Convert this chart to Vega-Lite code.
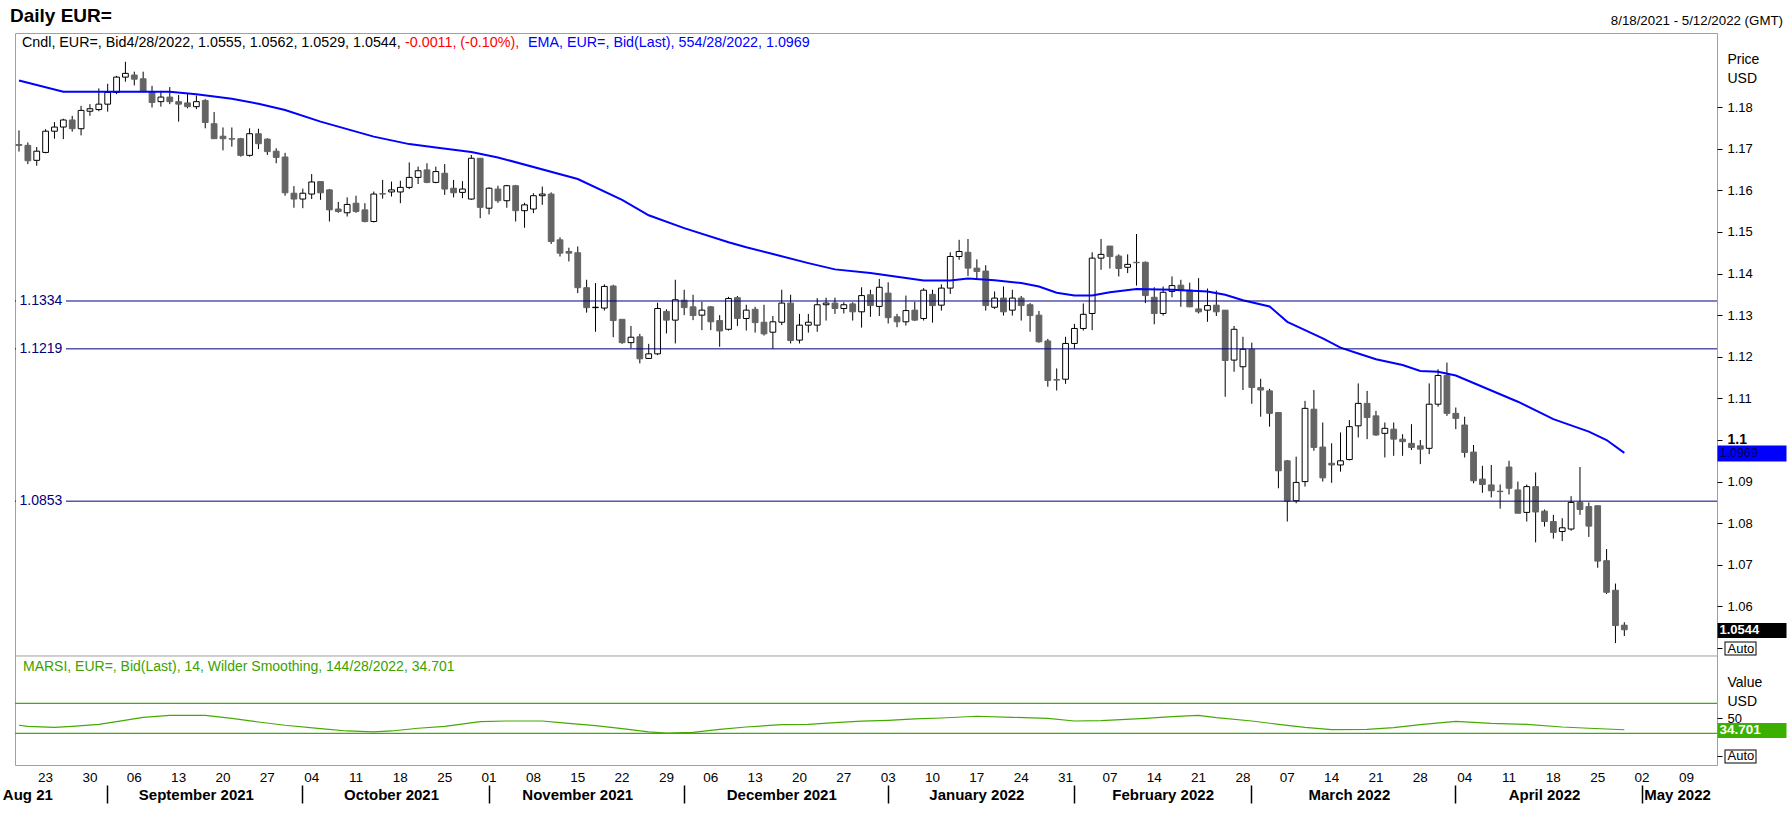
{
  "$schema": "https://vega.github.io/schema/vega-lite/v6.json",
  "description": "Daily EUR= candlesticks with 55-day EMA, support lines and MARSI panel, 8/18/2021 - 4/28/2022.",
  "width": 1702,
  "height": 732,
  "autosize": {"type": "none"},
  "padding": {"left": 15, "top": 33, "right": 71, "bottom": 62},
  "background": "white",
  "config": {
    "view": {"stroke": "#a0a0a0", "strokeWidth": 1},
    "font": "Liberation Sans",
    "text": {"font": "Liberation Sans"}
  },
  "datasets": {
    "candles": [
      {"d": "2021-08-18", "o": 1.1710, "h": 1.1744, "l": 1.1693, "c": 1.1708},
      {"d": "2021-08-19", "o": 1.1708, "h": 1.1715, "l": 1.1663, "c": 1.1671},
      {"d": "2021-08-20", "o": 1.1672, "h": 1.1704, "l": 1.1659, "c": 1.1694},
      {"d": "2021-08-23", "o": 1.1691, "h": 1.1747, "l": 1.1689, "c": 1.1742},
      {"d": "2021-08-24", "o": 1.1742, "h": 1.1764, "l": 1.1724, "c": 1.1752},
      {"d": "2021-08-25", "o": 1.1752, "h": 1.1772, "l": 1.1723, "c": 1.1769},
      {"d": "2021-08-26", "o": 1.1769, "h": 1.1779, "l": 1.1741, "c": 1.1748},
      {"d": "2021-08-27", "o": 1.1748, "h": 1.1803, "l": 1.1732, "c": 1.1792},
      {"d": "2021-08-30", "o": 1.1790, "h": 1.1807, "l": 1.1779, "c": 1.1796},
      {"d": "2021-08-31", "o": 1.1794, "h": 1.1845, "l": 1.1790, "c": 1.1807},
      {"d": "2021-09-01", "o": 1.1807, "h": 1.1856, "l": 1.1789, "c": 1.1835},
      {"d": "2021-09-02", "o": 1.1835, "h": 1.1875, "l": 1.1831, "c": 1.1872},
      {"d": "2021-09-03", "o": 1.1872, "h": 1.1909, "l": 1.1861, "c": 1.1881},
      {"d": "2021-09-06", "o": 1.1877, "h": 1.1885, "l": 1.1852, "c": 1.1867},
      {"d": "2021-09-07", "o": 1.1868, "h": 1.1885, "l": 1.1837, "c": 1.1837},
      {"d": "2021-09-08", "o": 1.1837, "h": 1.1851, "l": 1.1799, "c": 1.1811},
      {"d": "2021-09-09", "o": 1.1813, "h": 1.1839, "l": 1.1801, "c": 1.1824},
      {"d": "2021-09-10", "o": 1.1824, "h": 1.1848, "l": 1.1807, "c": 1.1813},
      {"d": "2021-09-13", "o": 1.1813, "h": 1.1829, "l": 1.1765, "c": 1.1807},
      {"d": "2021-09-14", "o": 1.1810, "h": 1.1833, "l": 1.1797, "c": 1.1801},
      {"d": "2021-09-15", "o": 1.1801, "h": 1.1828, "l": 1.1795, "c": 1.1813},
      {"d": "2021-09-16", "o": 1.1816, "h": 1.1819, "l": 1.1749, "c": 1.1763},
      {"d": "2021-09-17", "o": 1.1760, "h": 1.1788, "l": 1.1724, "c": 1.1724},
      {"d": "2021-09-20", "o": 1.1730, "h": 1.1751, "l": 1.1696, "c": 1.1724},
      {"d": "2021-09-21", "o": 1.1724, "h": 1.1751, "l": 1.1705, "c": 1.1723},
      {"d": "2021-09-22", "o": 1.1724, "h": 1.1726, "l": 1.1681, "c": 1.1684},
      {"d": "2021-09-23", "o": 1.1684, "h": 1.1749, "l": 1.1681, "c": 1.1736},
      {"d": "2021-09-24", "o": 1.1736, "h": 1.1748, "l": 1.1699, "c": 1.1712},
      {"d": "2021-09-27", "o": 1.1723, "h": 1.1725, "l": 1.1685, "c": 1.1693},
      {"d": "2021-09-28", "o": 1.1694, "h": 1.1701, "l": 1.1665, "c": 1.1679},
      {"d": "2021-09-29", "o": 1.1680, "h": 1.1690, "l": 1.1587, "c": 1.1594},
      {"d": "2021-09-30", "o": 1.1593, "h": 1.1610, "l": 1.1558, "c": 1.1579},
      {"d": "2021-10-01", "o": 1.1579, "h": 1.1604, "l": 1.1557, "c": 1.1593},
      {"d": "2021-10-04", "o": 1.1591, "h": 1.1639, "l": 1.1579, "c": 1.1620},
      {"d": "2021-10-05", "o": 1.1621, "h": 1.1622, "l": 1.1577, "c": 1.1594},
      {"d": "2021-10-06", "o": 1.1601, "h": 1.1603, "l": 1.1525, "c": 1.1553},
      {"d": "2021-10-07", "o": 1.1555, "h": 1.1572, "l": 1.1546, "c": 1.1549},
      {"d": "2021-10-08", "o": 1.1546, "h": 1.1583, "l": 1.1537, "c": 1.1566},
      {"d": "2021-10-11", "o": 1.1569, "h": 1.1587, "l": 1.1546, "c": 1.1549},
      {"d": "2021-10-12", "o": 1.1553, "h": 1.1569, "l": 1.1523, "c": 1.1525},
      {"d": "2021-10-13", "o": 1.1525, "h": 1.1597, "l": 1.1523, "c": 1.1591},
      {"d": "2021-10-14", "o": 1.1592, "h": 1.1625, "l": 1.1580, "c": 1.1591},
      {"d": "2021-10-15", "o": 1.1596, "h": 1.1621, "l": 1.1585, "c": 1.1601},
      {"d": "2021-10-18", "o": 1.1596, "h": 1.1623, "l": 1.1569, "c": 1.1607},
      {"d": "2021-10-19", "o": 1.1607, "h": 1.1667, "l": 1.1603, "c": 1.1631},
      {"d": "2021-10-20", "o": 1.1631, "h": 1.1657, "l": 1.1615, "c": 1.1647},
      {"d": "2021-10-21", "o": 1.1649, "h": 1.1665, "l": 1.1617, "c": 1.1619},
      {"d": "2021-10-22", "o": 1.1619, "h": 1.1657, "l": 1.1617, "c": 1.1645},
      {"d": "2021-10-25", "o": 1.1641, "h": 1.1663, "l": 1.1589, "c": 1.1603},
      {"d": "2021-10-26", "o": 1.1605, "h": 1.1625, "l": 1.1583, "c": 1.1594},
      {"d": "2021-10-27", "o": 1.1595, "h": 1.1622, "l": 1.1581, "c": 1.1603},
      {"d": "2021-10-28", "o": 1.1579, "h": 1.1685, "l": 1.1577, "c": 1.1677},
      {"d": "2021-10-29", "o": 1.1677, "h": 1.1677, "l": 1.1533, "c": 1.1559},
      {"d": "2021-11-01", "o": 1.1557, "h": 1.1607, "l": 1.1542, "c": 1.1605},
      {"d": "2021-11-02", "o": 1.1603, "h": 1.1611, "l": 1.1570, "c": 1.1575},
      {"d": "2021-11-03", "o": 1.1575, "h": 1.1613, "l": 1.1558, "c": 1.1611},
      {"d": "2021-11-04", "o": 1.1611, "h": 1.1613, "l": 1.1525, "c": 1.1551},
      {"d": "2021-11-05", "o": 1.1551, "h": 1.1570, "l": 1.1510, "c": 1.1565},
      {"d": "2021-11-08", "o": 1.1555, "h": 1.1593, "l": 1.1545, "c": 1.1587},
      {"d": "2021-11-09", "o": 1.1587, "h": 1.1609, "l": 1.1565, "c": 1.1591},
      {"d": "2021-11-10", "o": 1.1591, "h": 1.1595, "l": 1.1471, "c": 1.1477},
      {"d": "2021-11-11", "o": 1.1481, "h": 1.1487, "l": 1.1441, "c": 1.1449},
      {"d": "2021-11-12", "o": 1.1453, "h": 1.1462, "l": 1.1429, "c": 1.1449},
      {"d": "2021-11-15", "o": 1.1450, "h": 1.1465, "l": 1.1353, "c": 1.1366},
      {"d": "2021-11-16", "o": 1.1366, "h": 1.1385, "l": 1.1306, "c": 1.1318},
      {"d": "2021-11-17", "o": 1.1318, "h": 1.1377, "l": 1.1260, "c": 1.1319},
      {"d": "2021-11-18", "o": 1.1317, "h": 1.1374, "l": 1.1311, "c": 1.1369},
      {"d": "2021-11-19", "o": 1.1370, "h": 1.1373, "l": 1.1247, "c": 1.1287},
      {"d": "2021-11-22", "o": 1.1290, "h": 1.1290, "l": 1.1231, "c": 1.1234},
      {"d": "2021-11-23", "o": 1.1234, "h": 1.1274, "l": 1.1220, "c": 1.1247},
      {"d": "2021-11-24", "o": 1.1248, "h": 1.1255, "l": 1.1184, "c": 1.1195},
      {"d": "2021-11-25", "o": 1.1196, "h": 1.1231, "l": 1.1195, "c": 1.1207},
      {"d": "2021-11-26", "o": 1.1207, "h": 1.1330, "l": 1.1204, "c": 1.1316},
      {"d": "2021-11-29", "o": 1.1309, "h": 1.1314, "l": 1.1256, "c": 1.1288},
      {"d": "2021-11-30", "o": 1.1288, "h": 1.1385, "l": 1.1232, "c": 1.1337},
      {"d": "2021-12-01", "o": 1.1336, "h": 1.1361, "l": 1.1300, "c": 1.1318},
      {"d": "2021-12-02", "o": 1.1320, "h": 1.1349, "l": 1.1288, "c": 1.1299},
      {"d": "2021-12-03", "o": 1.1300, "h": 1.1332, "l": 1.1264, "c": 1.1312},
      {"d": "2021-12-06", "o": 1.1320, "h": 1.1322, "l": 1.1264, "c": 1.1284},
      {"d": "2021-12-07", "o": 1.1287, "h": 1.1300, "l": 1.1224, "c": 1.1262},
      {"d": "2021-12-08", "o": 1.1266, "h": 1.1344, "l": 1.1263, "c": 1.1340},
      {"d": "2021-12-09", "o": 1.1342, "h": 1.1346, "l": 1.1274, "c": 1.1292},
      {"d": "2021-12-10", "o": 1.1292, "h": 1.1325, "l": 1.1263, "c": 1.1312},
      {"d": "2021-12-13", "o": 1.1314, "h": 1.1320, "l": 1.1258, "c": 1.1282},
      {"d": "2021-12-14", "o": 1.1283, "h": 1.1325, "l": 1.1251, "c": 1.1255},
      {"d": "2021-12-15", "o": 1.1259, "h": 1.1298, "l": 1.1219, "c": 1.1284},
      {"d": "2021-12-16", "o": 1.1283, "h": 1.1361, "l": 1.1276, "c": 1.1329},
      {"d": "2021-12-17", "o": 1.1329, "h": 1.1349, "l": 1.1232, "c": 1.1239},
      {"d": "2021-12-20", "o": 1.1240, "h": 1.1303, "l": 1.1232, "c": 1.1276},
      {"d": "2021-12-21", "o": 1.1276, "h": 1.1303, "l": 1.1258, "c": 1.1283},
      {"d": "2021-12-22", "o": 1.1276, "h": 1.1341, "l": 1.1260, "c": 1.1325},
      {"d": "2021-12-23", "o": 1.1325, "h": 1.1342, "l": 1.1287, "c": 1.1329},
      {"d": "2021-12-24", "o": 1.1329, "h": 1.1342, "l": 1.1303, "c": 1.1316},
      {"d": "2021-12-27", "o": 1.1316, "h": 1.1331, "l": 1.1304, "c": 1.1325},
      {"d": "2021-12-28", "o": 1.1327, "h": 1.1331, "l": 1.1287, "c": 1.1308},
      {"d": "2021-12-29", "o": 1.1308, "h": 1.1367, "l": 1.1270, "c": 1.1347},
      {"d": "2021-12-30", "o": 1.1349, "h": 1.1361, "l": 1.1296, "c": 1.1323},
      {"d": "2021-12-31", "o": 1.1321, "h": 1.1387, "l": 1.1298, "c": 1.1367},
      {"d": "2022-01-03", "o": 1.1353, "h": 1.1379, "l": 1.1280, "c": 1.1294},
      {"d": "2022-01-04", "o": 1.1296, "h": 1.1303, "l": 1.1271, "c": 1.1284},
      {"d": "2022-01-05", "o": 1.1284, "h": 1.1347, "l": 1.1275, "c": 1.1311},
      {"d": "2022-01-06", "o": 1.1312, "h": 1.1332, "l": 1.1286, "c": 1.1288},
      {"d": "2022-01-07", "o": 1.1292, "h": 1.1365, "l": 1.1287, "c": 1.1360},
      {"d": "2022-01-10", "o": 1.1350, "h": 1.1361, "l": 1.1282, "c": 1.1323},
      {"d": "2022-01-11", "o": 1.1324, "h": 1.1374, "l": 1.1311, "c": 1.1365},
      {"d": "2022-01-12", "o": 1.1365, "h": 1.1451, "l": 1.1351, "c": 1.1441},
      {"d": "2022-01-13", "o": 1.1441, "h": 1.1481, "l": 1.1433, "c": 1.1453},
      {"d": "2022-01-14", "o": 1.1451, "h": 1.1483, "l": 1.1394, "c": 1.1413},
      {"d": "2022-01-17", "o": 1.1413, "h": 1.1434, "l": 1.1387, "c": 1.1405},
      {"d": "2022-01-18", "o": 1.1406, "h": 1.1420, "l": 1.1311, "c": 1.1323},
      {"d": "2022-01-19", "o": 1.1319, "h": 1.1357, "l": 1.1315, "c": 1.1341},
      {"d": "2022-01-20", "o": 1.1341, "h": 1.1369, "l": 1.1299, "c": 1.1308},
      {"d": "2022-01-21", "o": 1.1312, "h": 1.1361, "l": 1.1299, "c": 1.1341},
      {"d": "2022-01-24", "o": 1.1341, "h": 1.1346, "l": 1.1287, "c": 1.1323},
      {"d": "2022-01-25", "o": 1.1325, "h": 1.1329, "l": 1.1260, "c": 1.1299},
      {"d": "2022-01-26", "o": 1.1300, "h": 1.1310, "l": 1.1234, "c": 1.1236},
      {"d": "2022-01-27", "o": 1.1238, "h": 1.1243, "l": 1.1128, "c": 1.1143},
      {"d": "2022-01-28", "o": 1.1145, "h": 1.1172, "l": 1.1119, "c": 1.1144},
      {"d": "2022-01-31", "o": 1.1146, "h": 1.1248, "l": 1.1135, "c": 1.1232},
      {"d": "2022-02-01", "o": 1.1232, "h": 1.1279, "l": 1.1219, "c": 1.1268},
      {"d": "2022-02-02", "o": 1.1268, "h": 1.1328, "l": 1.1263, "c": 1.1302},
      {"d": "2022-02-03", "o": 1.1304, "h": 1.1451, "l": 1.1264, "c": 1.1437},
      {"d": "2022-02-04", "o": 1.1437, "h": 1.1483, "l": 1.1409, "c": 1.1446},
      {"d": "2022-02-07", "o": 1.1466, "h": 1.1466, "l": 1.1412, "c": 1.1441},
      {"d": "2022-02-08", "o": 1.1442, "h": 1.1446, "l": 1.1393, "c": 1.1412},
      {"d": "2022-02-09", "o": 1.1415, "h": 1.1446, "l": 1.1401, "c": 1.1422},
      {"d": "2022-02-10", "o": 1.1427, "h": 1.1495, "l": 1.1371, "c": 1.1426},
      {"d": "2022-02-11", "o": 1.1427, "h": 1.1429, "l": 1.1329, "c": 1.1347},
      {"d": "2022-02-14", "o": 1.1343, "h": 1.1367, "l": 1.1278, "c": 1.1304},
      {"d": "2022-02-15", "o": 1.1304, "h": 1.1369, "l": 1.1299, "c": 1.1355},
      {"d": "2022-02-16", "o": 1.1357, "h": 1.1393, "l": 1.1343, "c": 1.1371},
      {"d": "2022-02-17", "o": 1.1372, "h": 1.1385, "l": 1.1320, "c": 1.1359},
      {"d": "2022-02-18", "o": 1.1360, "h": 1.1378, "l": 1.1319, "c": 1.1320},
      {"d": "2022-02-21", "o": 1.1315, "h": 1.1389, "l": 1.1304, "c": 1.1308},
      {"d": "2022-02-22", "o": 1.1312, "h": 1.1364, "l": 1.1284, "c": 1.1323},
      {"d": "2022-02-23", "o": 1.1324, "h": 1.1359, "l": 1.1298, "c": 1.1308},
      {"d": "2022-02-24", "o": 1.1312, "h": 1.1312, "l": 1.1104, "c": 1.1191},
      {"d": "2022-02-25", "o": 1.1192, "h": 1.1274, "l": 1.1164, "c": 1.1266},
      {"d": "2022-02-28", "o": 1.1176, "h": 1.1248, "l": 1.1120, "c": 1.1218},
      {"d": "2022-03-01", "o": 1.1218, "h": 1.1234, "l": 1.1087, "c": 1.1126},
      {"d": "2022-03-02", "o": 1.1126, "h": 1.1147, "l": 1.1056, "c": 1.1120},
      {"d": "2022-03-03", "o": 1.1118, "h": 1.1123, "l": 1.1032, "c": 1.1064},
      {"d": "2022-03-04", "o": 1.1066, "h": 1.1066, "l": 1.0884, "c": 1.0926},
      {"d": "2022-03-07", "o": 1.0950, "h": 1.0952, "l": 1.0804, "c": 1.0853},
      {"d": "2022-03-08", "o": 1.0854, "h": 1.0960, "l": 1.0848, "c": 1.0898},
      {"d": "2022-03-09", "o": 1.0900, "h": 1.1094, "l": 1.0888, "c": 1.1076},
      {"d": "2022-03-10", "o": 1.1074, "h": 1.1120, "l": 1.0974, "c": 1.0982},
      {"d": "2022-03-11", "o": 1.0983, "h": 1.1042, "l": 1.0900, "c": 1.0909},
      {"d": "2022-03-14", "o": 1.0944, "h": 1.0992, "l": 1.0897, "c": 1.0940},
      {"d": "2022-03-15", "o": 1.0940, "h": 1.1018, "l": 1.0924, "c": 1.0950},
      {"d": "2022-03-16", "o": 1.0953, "h": 1.1048, "l": 1.0951, "c": 1.1032},
      {"d": "2022-03-17", "o": 1.1034, "h": 1.1136, "l": 1.1006, "c": 1.1088},
      {"d": "2022-03-18", "o": 1.1088, "h": 1.1118, "l": 1.1002, "c": 1.1054},
      {"d": "2022-03-21", "o": 1.1058, "h": 1.1070, "l": 1.1010, "c": 1.1012},
      {"d": "2022-03-22", "o": 1.1016, "h": 1.1042, "l": 1.0958, "c": 1.1028},
      {"d": "2022-03-23", "o": 1.1026, "h": 1.1042, "l": 1.0962, "c": 1.1002},
      {"d": "2022-03-24", "o": 1.1002, "h": 1.1014, "l": 1.0962, "c": 1.0996},
      {"d": "2022-03-25", "o": 1.0992, "h": 1.1038, "l": 1.0976, "c": 1.0982},
      {"d": "2022-03-28", "o": 1.0986, "h": 1.1000, "l": 1.0942, "c": 1.0978},
      {"d": "2022-03-29", "o": 1.0980, "h": 1.1136, "l": 1.0966, "c": 1.1086},
      {"d": "2022-03-30", "o": 1.1086, "h": 1.1170, "l": 1.1080, "c": 1.1155},
      {"d": "2022-03-31", "o": 1.1155, "h": 1.1186, "l": 1.1058, "c": 1.1064},
      {"d": "2022-04-01", "o": 1.1064, "h": 1.1078, "l": 1.1026, "c": 1.1052},
      {"d": "2022-04-04", "o": 1.1036, "h": 1.1056, "l": 1.0958, "c": 1.0970},
      {"d": "2022-04-05", "o": 1.0971, "h": 1.0988, "l": 1.0896, "c": 1.0902},
      {"d": "2022-04-06", "o": 1.0906, "h": 1.0938, "l": 1.0873, "c": 1.0893},
      {"d": "2022-04-07", "o": 1.0892, "h": 1.0940, "l": 1.0862, "c": 1.0878},
      {"d": "2022-04-08", "o": 1.0877, "h": 1.0893, "l": 1.0835, "c": 1.0876},
      {"d": "2022-04-11", "o": 1.0935, "h": 1.0950, "l": 1.0869, "c": 1.0884},
      {"d": "2022-04-12", "o": 1.0880, "h": 1.0900, "l": 1.0824, "c": 1.0824},
      {"d": "2022-04-13", "o": 1.0826, "h": 1.0893, "l": 1.0804, "c": 1.0888},
      {"d": "2022-04-14", "o": 1.0888, "h": 1.0922, "l": 1.0754, "c": 1.0827},
      {"d": "2022-04-15", "o": 1.0829, "h": 1.0833, "l": 1.0792, "c": 1.0804},
      {"d": "2022-04-18", "o": 1.0804, "h": 1.0820, "l": 1.0763, "c": 1.0778},
      {"d": "2022-04-19", "o": 1.0780, "h": 1.0812, "l": 1.0757, "c": 1.0789},
      {"d": "2022-04-20", "o": 1.0786, "h": 1.0865, "l": 1.0782, "c": 1.0850},
      {"d": "2022-04-21", "o": 1.0850, "h": 1.0935, "l": 1.0820, "c": 1.0833},
      {"d": "2022-04-22", "o": 1.0840, "h": 1.0850, "l": 1.0767, "c": 1.0793},
      {"d": "2022-04-25", "o": 1.0842, "h": 1.0842, "l": 1.0693, "c": 1.0709},
      {"d": "2022-04-26", "o": 1.0710, "h": 1.0738, "l": 1.0630, "c": 1.0634},
      {"d": "2022-04-27", "o": 1.0639, "h": 1.0655, "l": 1.0512, "c": 1.0554},
      {"d": "2022-04-28", "o": 1.0555, "h": 1.0562, "l": 1.0529, "c": 1.0544}
    ],
    "ema": [
      {"d": "2021-08-18", "ema": 1.1864},
      {"d": "2021-08-25", "ema": 1.1837},
      {"d": "2021-09-03", "ema": 1.1837},
      {"d": "2021-09-10", "ema": 1.1837},
      {"d": "2021-09-15", "ema": 1.1831},
      {"d": "2021-09-21", "ema": 1.1820},
      {"d": "2021-09-24", "ema": 1.1808},
      {"d": "2021-09-29", "ema": 1.1793},
      {"d": "2021-10-05", "ema": 1.1765},
      {"d": "2021-10-13", "ema": 1.1729},
      {"d": "2021-10-19", "ema": 1.1711},
      {"d": "2021-10-22", "ema": 1.1703},
      {"d": "2021-10-28", "ema": 1.1692},
      {"d": "2021-11-02", "ema": 1.1679},
      {"d": "2021-11-15", "ema": 1.1627},
      {"d": "2021-11-22", "ema": 1.1577},
      {"d": "2021-11-25", "ema": 1.1540},
      {"d": "2021-12-01", "ema": 1.1509},
      {"d": "2021-12-08", "ema": 1.1475},
      {"d": "2021-12-10", "ema": 1.1463},
      {"d": "2021-12-15", "ema": 1.1447},
      {"d": "2021-12-21", "ema": 1.1425},
      {"d": "2021-12-24", "ema": 1.1410},
      {"d": "2021-12-30", "ema": 1.1401},
      {"d": "2022-01-05", "ema": 1.1389},
      {"d": "2022-01-07", "ema": 1.1383},
      {"d": "2022-01-12", "ema": 1.1383},
      {"d": "2022-01-14", "ema": 1.1388},
      {"d": "2022-01-19", "ema": 1.1384},
      {"d": "2022-01-24", "ema": 1.1377},
      {"d": "2022-01-26", "ema": 1.1369},
      {"d": "2022-01-28", "ema": 1.1354},
      {"d": "2022-02-01", "ema": 1.1347},
      {"d": "2022-02-03", "ema": 1.1347},
      {"d": "2022-02-07", "ema": 1.1355},
      {"d": "2022-02-10", "ema": 1.1363},
      {"d": "2022-02-16", "ema": 1.1361},
      {"d": "2022-02-22", "ema": 1.1357},
      {"d": "2022-02-24", "ema": 1.1349},
      {"d": "2022-02-28", "ema": 1.1336},
      {"d": "2022-03-03", "ema": 1.1321},
      {"d": "2022-03-07", "ema": 1.1284},
      {"d": "2022-03-09", "ema": 1.1264},
      {"d": "2022-03-11", "ema": 1.1244},
      {"d": "2022-03-15", "ema": 1.1222},
      {"d": "2022-03-17", "ema": 1.1208},
      {"d": "2022-03-21", "ema": 1.1194},
      {"d": "2022-03-24", "ema": 1.1180},
      {"d": "2022-03-28", "ema": 1.1166},
      {"d": "2022-03-30", "ema": 1.1164},
      {"d": "2022-04-01", "ema": 1.1155},
      {"d": "2022-04-05", "ema": 1.1137},
      {"d": "2022-04-08", "ema": 1.1110},
      {"d": "2022-04-12", "ema": 1.1092},
      {"d": "2022-04-18", "ema": 1.1050},
      {"d": "2022-04-22", "ema": 1.1020},
      {"d": "2022-04-26", "ema": 1.1000},
      {"d": "2022-04-28", "ema": 1.0969}
    ],
    "rsi": [
      {"d": "2021-08-18", "v": 40.7},
      {"d": "2021-08-19", "v": 39.3},
      {"d": "2021-08-24", "v": 38.0},
      {"d": "2021-08-26", "v": 39.3},
      {"d": "2021-08-31", "v": 42.0},
      {"d": "2021-09-02", "v": 45.6},
      {"d": "2021-09-07", "v": 51.3},
      {"d": "2021-09-10", "v": 54.0},
      {"d": "2021-09-16", "v": 54.0},
      {"d": "2021-09-21", "v": 50.0},
      {"d": "2021-09-24", "v": 45.1},
      {"d": "2021-09-29", "v": 40.7},
      {"d": "2021-10-05", "v": 36.2},
      {"d": "2021-10-08", "v": 33.1},
      {"d": "2021-10-13", "v": 31.8},
      {"d": "2021-10-15", "v": 33.1},
      {"d": "2021-10-20", "v": 36.7},
      {"d": "2021-10-25", "v": 39.3},
      {"d": "2021-10-29", "v": 45.6},
      {"d": "2021-11-03", "v": 46.4},
      {"d": "2021-11-09", "v": 46.4},
      {"d": "2021-11-11", "v": 44.2},
      {"d": "2021-11-17", "v": 40.2},
      {"d": "2021-11-22", "v": 36.2},
      {"d": "2021-11-25", "v": 31.8},
      {"d": "2021-11-29", "v": 30.4},
      {"d": "2021-12-02", "v": 31.3},
      {"d": "2021-12-07", "v": 35.3},
      {"d": "2021-12-10", "v": 38.4},
      {"d": "2021-12-16", "v": 41.6},
      {"d": "2021-12-21", "v": 42.0},
      {"d": "2021-12-24", "v": 44.2},
      {"d": "2021-12-29", "v": 46.2},
      {"d": "2022-01-03", "v": 47.3},
      {"d": "2022-01-06", "v": 49.1},
      {"d": "2022-01-11", "v": 50.4},
      {"d": "2022-01-17", "v": 52.7},
      {"d": "2022-01-21", "v": 51.3},
      {"d": "2022-01-27", "v": 50.0},
      {"d": "2022-02-01", "v": 46.4},
      {"d": "2022-02-04", "v": 46.9},
      {"d": "2022-02-11", "v": 50.0},
      {"d": "2022-02-16", "v": 52.2},
      {"d": "2022-02-21", "v": 54.0},
      {"d": "2022-02-23", "v": 50.9},
      {"d": "2022-03-01", "v": 46.4},
      {"d": "2022-03-04", "v": 42.0},
      {"d": "2022-03-09", "v": 38.0},
      {"d": "2022-03-14", "v": 34.9},
      {"d": "2022-03-18", "v": 35.3},
      {"d": "2022-03-23", "v": 37.6},
      {"d": "2022-03-28", "v": 41.6},
      {"d": "2022-04-01", "v": 46.0},
      {"d": "2022-04-07", "v": 43.3},
      {"d": "2022-04-13", "v": 42.0},
      {"d": "2022-04-19", "v": 38.4},
      {"d": "2022-04-22", "v": 36.7},
      {"d": "2022-04-28", "v": 34.7}
    ],
    "lines": [
      {"p": 1.1334},
      {"p": 1.1219},
      {"p": 1.0853}
    ],
    "levels": [
      {"v": 70},
      {"v": 30}
    ]
  },
  "layer": [
    {
      "layer": [
        {
          "data": {"name": "candles"},
          "mark": {"type": "rule", "color": "black", "strokeWidth": 1},
          "encoding": {
            "x": {
              "field": "d",
              "type": "ordinal",
              "scale": {
                "type": "band",
                "paddingInner": 0.35,
                "paddingOuter": 0.125,
                "domain": [
                  "2021-08-18","2021-08-19","2021-08-20","2021-08-23","2021-08-24","2021-08-25","2021-08-26","2021-08-27","2021-08-30","2021-08-31",
                  "2021-09-01","2021-09-02","2021-09-03","2021-09-06","2021-09-07","2021-09-08","2021-09-09","2021-09-10","2021-09-13","2021-09-14","2021-09-15","2021-09-16","2021-09-17","2021-09-20","2021-09-21","2021-09-22","2021-09-23","2021-09-24","2021-09-27","2021-09-28","2021-09-29","2021-09-30",
                  "2021-10-01","2021-10-04","2021-10-05","2021-10-06","2021-10-07","2021-10-08","2021-10-11","2021-10-12","2021-10-13","2021-10-14","2021-10-15","2021-10-18","2021-10-19","2021-10-20","2021-10-21","2021-10-22","2021-10-25","2021-10-26","2021-10-27","2021-10-28","2021-10-29",
                  "2021-11-01","2021-11-02","2021-11-03","2021-11-04","2021-11-05","2021-11-08","2021-11-09","2021-11-10","2021-11-11","2021-11-12","2021-11-15","2021-11-16","2021-11-17","2021-11-18","2021-11-19","2021-11-22","2021-11-23","2021-11-24","2021-11-25","2021-11-26","2021-11-29","2021-11-30",
                  "2021-12-01","2021-12-02","2021-12-03","2021-12-06","2021-12-07","2021-12-08","2021-12-09","2021-12-10","2021-12-13","2021-12-14","2021-12-15","2021-12-16","2021-12-17","2021-12-20","2021-12-21","2021-12-22","2021-12-23","2021-12-24","2021-12-27","2021-12-28","2021-12-29","2021-12-30","2021-12-31",
                  "2022-01-03","2022-01-04","2022-01-05","2022-01-06","2022-01-07","2022-01-10","2022-01-11","2022-01-12","2022-01-13","2022-01-14","2022-01-17","2022-01-18","2022-01-19","2022-01-20","2022-01-21","2022-01-24","2022-01-25","2022-01-26","2022-01-27","2022-01-28","2022-01-31",
                  "2022-02-01","2022-02-02","2022-02-03","2022-02-04","2022-02-07","2022-02-08","2022-02-09","2022-02-10","2022-02-11","2022-02-14","2022-02-15","2022-02-16","2022-02-17","2022-02-18","2022-02-21","2022-02-22","2022-02-23","2022-02-24","2022-02-25","2022-02-28",
                  "2022-03-01","2022-03-02","2022-03-03","2022-03-04","2022-03-07","2022-03-08","2022-03-09","2022-03-10","2022-03-11","2022-03-14","2022-03-15","2022-03-16","2022-03-17","2022-03-18","2022-03-21","2022-03-22","2022-03-23","2022-03-24","2022-03-25","2022-03-28","2022-03-29","2022-03-30","2022-03-31",
                  "2022-04-01","2022-04-04","2022-04-05","2022-04-06","2022-04-07","2022-04-08","2022-04-11","2022-04-12","2022-04-13","2022-04-14","2022-04-15","2022-04-18","2022-04-19","2022-04-20","2022-04-21","2022-04-22","2022-04-25","2022-04-26","2022-04-27","2022-04-28","2022-04-29",
                  "2022-05-02","2022-05-03","2022-05-04","2022-05-05","2022-05-06","2022-05-09","2022-05-10","2022-05-11","2022-05-12"
                ]
              },
              "axis": {
                "orient": "bottom",
                "title": null,
                "domain": false,
                "ticks": false,
                "tickSize": 0,
                "grid": false,
                "labelAngle": 0,
                "labelPadding": 5,
                "labelFont": "Liberation Sans",
                "labelFontSize": 13.5,
                "labelColor": "black",
                "labelOverlap": false,
                "labelBound": false,
                "labelFlush": false,
                "bandPosition": 0.5,
                "labelExpr": "utcday(toDate(datum.value)) == 1 ? utcFormat(toDate(datum.value), '%d') : ''"
              }
            },
            "y": {
              "field": "l",
              "type": "quantitative",
              "scale": {"domain": [1.0219, 1.1978], "zero": false, "nice": false},
              "axis": {
                "orient": "right",
                "title": ["Price", "USD"],
                "titleAngle": 0,
                "titleAlign": "left",
                "titleBaseline": "top",
                "titleX": 10,
                "titleY": 19,
                "titleFont": "Liberation Sans",
                "titleFontSize": 14,
                "titleFontWeight": "normal",
                "titleColor": "black",
                "titleLineHeight": 19,
                "values": [1.05, 1.06, 1.07, 1.08, 1.09, 1.1, 1.11, 1.12, 1.13, 1.14, 1.15, 1.16, 1.17, 1.18],
                "labelExpr": "datum.value == 1.05 ? 'Auto' : format(datum.value, '.2~f')",
                "grid": false,
                "domain": false,
                "tickSize": 5,
                "tickColor": "black",
                "labelPadding": 5,
                "labelFont": "Liberation Sans",
                "labelFontSize": {"condition": {"test": "datum.value == 1.1", "value": 14}, "value": 13},
                "labelFontWeight": {"condition": {"test": "datum.value == 1.1", "value": "bold"}, "value": "normal"},
                "labelColor": "black",
                "labelOverlap": false,
                "labelBound": false,
                "labelFlush": false,
                "zindex": 3
              }
            },
            "y2": {"field": "h"}
          }
        },
        {
          "data": {"name": "candles"},
          "mark": {"type": "bar", "strokeWidth": 1},
          "encoding": {
            "x": {
              "field": "d",
              "type": "ordinal",
              "axis": {
                "orient": "bottom",
                "title": null,
                "domain": false,
                "ticks": false,
                "tickSize": 0,
                "grid": false,
                "labelAngle": 0,
                "labelPadding": 22,
                "labelFont": "Liberation Sans",
                "labelFontSize": 15,
                "labelFontWeight": "bold",
                "labelColor": "black",
                "labelOverlap": false,
                "labelBound": false,
                "labelFlush": false,
                "bandPosition": 0.5,
                "values": ["2021-08-19", "2021-09-15", "2021-10-15", "2021-11-15", "2021-12-16", "2022-01-17", "2022-02-15", "2022-03-16", "2022-04-15", "2022-05-06"],
                "labelExpr": "utcmonth(toDate(datum.value)) == 7 ? 'Aug 21' : utcFormat(toDate(datum.value), '%B %Y')"
              }
            },
            "y": {
              "field": "o",
              "type": "quantitative",
              "axis": {
                "orient": "right",
                "title": null,
                "values": [1.0544],
                "format": ".4f",
                "grid": false,
                "domain": false,
                "tickSize": 69,
                "tickWidth": 15,
                "tickColor": "black",
                "labelPadding": -67,
                "labelColor": "white",
                "labelFont": "Liberation Sans",
                "labelFontWeight": "bold",
                "labelFontSize": 13,
                "labelBound": false,
                "labelOverlap": false,
                "zindex": 4
              }
            },
            "y2": {"field": "c"},
            "fill": {"condition": {"test": "datum.c >= datum.o", "value": "white"}, "value": "#646464"},
            "stroke": {"condition": {"test": "datum.c >= datum.o", "value": "black"}, "value": "#646464"}
          }
        },
        {
          "data": {"name": "ema"},
          "mark": {"type": "line", "color": "#0000ff", "strokeWidth": 2},
          "encoding": {
            "x": {
              "field": "d",
              "type": "ordinal",
              "axis": {
                "orient": "bottom",
                "title": null,
                "domain": false,
                "labels": false,
                "grid": false,
                "ticks": true,
                "tickSize": 18,
                "tickWidth": 1.5,
                "tickColor": "black",
                "offset": 20,
                "bandPosition": 0.5,
                "values": ["2021-09-01", "2021-10-01", "2021-11-01", "2021-12-01", "2022-01-03", "2022-02-01", "2022-03-01", "2022-04-01", "2022-05-02"]
              }
            },
            "y": {
              "field": "ema",
              "type": "quantitative",
              "axis": {
                "orient": "right",
                "title": null,
                "values": [1.0969],
                "format": ".4f",
                "grid": false,
                "domain": false,
                "tickSize": 69,
                "tickWidth": 16,
                "tickColor": "#0000ff",
                "labelPadding": -67,
                "labelColor": "#00004d",
                "labelFont": "Liberation Sans",
                "labelFontSize": 12.5,
                "labelBound": false,
                "labelOverlap": false,
                "zindex": 4
              }
            }
          }
        },
        {
          "data": {"name": "lines"},
          "mark": {"type": "rule", "color": "#000080", "strokeWidth": 1},
          "encoding": {
            "y": {
              "field": "p",
              "type": "quantitative",
              "axis": {
                "orient": "right",
                "title": null,
                "values": [1.05],
                "labels": false,
                "grid": false,
                "domain": false,
                "offset": 7,
                "tickSize": 32,
                "tickWidth": 14,
                "tickColor": "black",
                "zindex": 1
              }
            }
          }
        },
        {
          "data": {"name": "lines"},
          "mark": {"type": "tick", "color": "white", "thickness": 14, "xOffset": 22, "opacity": 1},
          "encoding": {
            "x": {"datum": "2021-08-18", "type": "ordinal", "axis": null},
            "y": {
              "field": "p",
              "type": "quantitative",
              "axis": {
                "orient": "right",
                "title": null,
                "values": [1.05],
                "labels": false,
                "grid": false,
                "domain": false,
                "offset": 8,
                "tickSize": 30,
                "tickWidth": 12,
                "tickColor": "white",
                "zindex": 2
              }
            },
            "size": {"value": 50}
          }
        },
        {
          "data": {"name": "lines"},
          "mark": {"type": "text", "color": "#000080", "fontSize": 14, "align": "center", "baseline": "middle", "dx": 22},
          "encoding": {
            "x": {"datum": "2021-08-18", "type": "ordinal", "axis": null},
            "y": {"field": "p", "type": "quantitative", "axis": null},
            "text": {"field": "p", "type": "quantitative", "format": ".4f"}
          }
        },
        {
          "data": {"values": [{}]},
          "mark": {"type": "text", "text": "Cndl, EUR=, Bid4/28/2022, 1.0555, 1.0562, 1.0529, 1.0544,", "color": "black", "fontSize": 14.3, "align": "left", "baseline": "alphabetic", "dx": 3},
          "encoding": {
            "x": {"datum": "2021-08-18", "type": "ordinal", "axis": null},
            "y": {"datum": 1.19432, "type": "quantitative", "axis": null}
          }
        },
        {
          "data": {"values": [{}]},
          "mark": {"type": "text", "text": "-0.0011, (-0.10%),", "color": "#ff0000", "fontSize": 14.3, "align": "left", "baseline": "alphabetic", "dx": 386},
          "encoding": {
            "x": {"datum": "2021-08-18", "type": "ordinal", "axis": null},
            "y": {"datum": 1.19432, "type": "quantitative", "axis": null}
          }
        },
        {
          "data": {"values": [{}]},
          "mark": {"type": "text", "text": "EMA, EUR=, Bid(Last),  554/28/2022, 1.0969", "color": "#0000ff", "fontSize": 14.3, "align": "left", "baseline": "alphabetic", "dx": 509},
          "encoding": {
            "x": {"datum": "2021-08-18", "type": "ordinal", "axis": null},
            "y": {"datum": 1.19432, "type": "quantitative", "axis": null}
          }
        },
        {
          "data": {"values": [{}]},
          "mark": {"type": "text", "text": "Daily EUR=", "color": "black", "fontSize": 19, "fontWeight": "bold", "align": "left", "baseline": "alphabetic", "dx": -9},
          "encoding": {
            "x": {"datum": "2021-08-18", "type": "ordinal", "axis": null},
            "y": {"datum": 1.2005, "type": "quantitative", "axis": null}
          }
        },
        {
          "data": {"values": [{}]},
          "mark": {"type": "text", "text": "8/18/2021 - 5/12/2022 (GMT)", "color": "black", "fontSize": 13.3, "align": "right", "baseline": "alphabetic", "dx": 70},
          "encoding": {
            "x": {"datum": "2022-05-12", "type": "ordinal", "axis": null},
            "y": {"datum": 1.19975, "type": "quantitative", "axis": null}
          }
        }
      ],
      "resolve": {"axis": {"x": "independent", "y": "independent"}}
    },
    {
      "layer": [
        {
          "data": {"name": "rsi"},
          "mark": {"type": "line", "color": "#44aa00", "strokeWidth": 1.2},
          "encoding": {
            "x": {"field": "d", "type": "ordinal", "axis": null},
            "y": {
              "field": "v",
              "type": "quantitative",
              "scale": {"domain": [-12.27, 963.73], "zero": false, "nice": false},
              "axis": {
                "orient": "right",
                "title": ["Value", "USD"],
                "titleAngle": 0,
                "titleAlign": "left",
                "titleBaseline": "top",
                "titleX": 10,
                "titleY": 642,
                "titleFont": "Liberation Sans",
                "titleFontSize": 14,
                "titleFontWeight": "normal",
                "titleColor": "black",
                "titleLineHeight": 19,
                "values": [0, 50],
                "labelExpr": "datum.value == 0 ? 'Auto' : datum.label",
                "grid": false,
                "domain": false,
                "tickSize": 5,
                "tickColor": "black",
                "labelPadding": 5,
                "labelFont": "Liberation Sans",
                "labelFontSize": 13,
                "labelColor": "black",
                "labelOverlap": false,
                "labelBound": false,
                "labelFlush": false,
                "zindex": 3
              }
            }
          }
        },
        {
          "data": {"name": "levels"},
          "mark": {"type": "rule", "color": "#44aa00", "strokeWidth": 1.3},
          "encoding": {
            "y": {
              "field": "v",
              "type": "quantitative",
              "axis": {
                "orient": "right",
                "title": null,
                "values": [34.701],
                "format": ".3f",
                "grid": false,
                "domain": false,
                "tickSize": 69,
                "tickWidth": 15,
                "tickColor": "#3cb000",
                "labelPadding": -67,
                "labelColor": "white",
                "labelFont": "Liberation Sans",
                "labelFontWeight": "bold",
                "labelFontSize": 13.5,
                "labelBound": false,
                "labelOverlap": false,
                "zindex": 4
              }
            }
          }
        },
        {
          "data": {"values": [{}]},
          "mark": {"type": "rule", "color": "#a0a0a0", "strokeWidth": 1},
          "encoding": {
            "y": {
              "datum": 133.07,
              "type": "quantitative",
              "axis": {
                "orient": "right",
                "title": null,
                "values": [0],
                "labels": false,
                "grid": false,
                "domain": false,
                "offset": 7,
                "tickSize": 32,
                "tickWidth": 14,
                "tickColor": "black",
                "zindex": 1
              }
            }
          }
        },
        {
          "data": {"values": [{}]},
          "mark": {"type": "text", "text": "MARSI, EUR=, Bid(Last),  14, Wilder Smoothing, 144/28/2022, 34.701", "color": "#3ca000", "fontSize": 14, "align": "left", "baseline": "alphabetic", "dx": 4},
          "encoding": {
            "x": {"datum": "2021-08-18", "type": "ordinal", "axis": null},
            "y": {
              "datum": 113,
              "type": "quantitative",
              "axis": {
                "orient": "right",
                "title": null,
                "values": [0],
                "labels": false,
                "grid": false,
                "domain": false,
                "offset": 8,
                "tickSize": 30,
                "tickWidth": 12,
                "tickColor": "white",
                "zindex": 2
              }
            }
          }
        }
      ],
      "resolve": {"axis": {"y": "independent"}}
    }
  ],
  "resolve": {"scale": {"y": "independent"}, "axis": {"x": "independent", "y": "independent"}}
}
